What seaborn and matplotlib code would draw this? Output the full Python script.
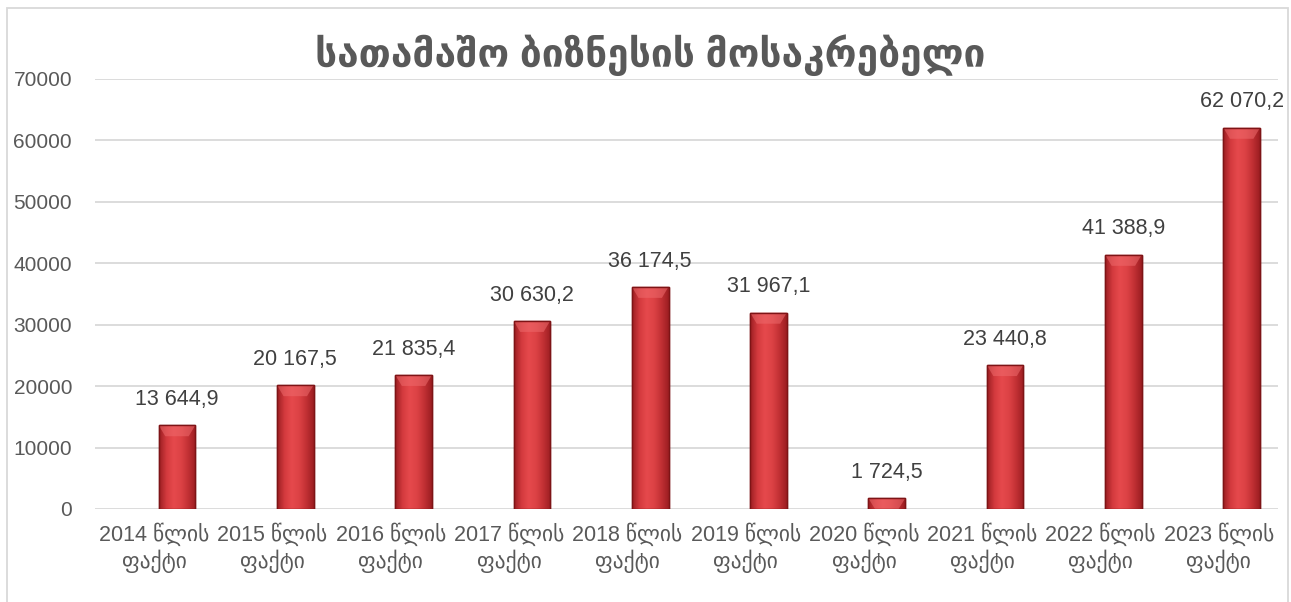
import matplotlib
matplotlib.use("Agg")
import matplotlib.pyplot as plt
from matplotlib.patches import Rectangle
from matplotlib.colors import LinearSegmentedColormap
import seaborn as sns
import pandas as pd
import numpy as np

# data
years = ['2014', '2015', '2016', '2017', '2018', '2019', '2020', '2021', '2022', '2023']
values = [13644.9, 20167.5, 21835.4, 30630.2, 36174.5, 31967.1, 1724.5, 23440.8, 41388.9, 62070.2]
categories = [f"{y} წლის\nფაქტი" for y in years]
title = "სათამაშო ბიზნესის მოსაკრებელი"
yticks = [0, 10000, 20000, 30000, 40000, 50000, 60000, 70000]

sns.set_theme(style="white")
plt.rcParams['font.family'] = ['Liberation Sans', 'DejaVu Sans']

df = pd.DataFrame({'cat': categories, 'val': values})

fig = plt.figure(figsize=(12.91, 6.02), dpi=100)
ax = fig.add_axes([95 / 1291, 1 - 509 / 602, (1278 - 95) / 1291, (509 - 79) / 602])

sns.barplot(data=df, x='cat', y='val', color='#D13B3D', width=0.31,
            edgecolor='#7E1416', linewidth=1.0, saturation=1, ax=ax, zorder=3)

ax.set_ylim(0, 70000)
ax.set_xlim(-0.693, 9.307)

# bevel-like shading on top of each bar
shade = LinearSegmentedColormap.from_list(
    'shade', ['#9C1E22', '#D33A3E', '#E6494C', '#DC4245', '#C23034', '#9C1E22'])
grad = np.linspace(0, 1, 64).reshape(1, -1)
for p in ax.patches:
    x0, w, h = p.get_x(), p.get_width(), p.get_height()
    im = ax.imshow(grad, cmap=shade, aspect='auto', extent=(x0, x0 + w, 0, h),
                   zorder=3.5, interpolation='bicubic')
    im.set_clip_path(p)
    # lighter bevel cap
    cap = min(h, 1800)
    ax.fill([x0, x0 + w, x0 + w * 0.82, x0 + w * 0.18], [h, h, h - cap, h - cap],
            color='#EE6A6C', alpha=0.55, zorder=3.6, lw=0)
    ax.add_patch(Rectangle((x0, 0), w, h, fill=False, edgecolor='#7E1416', lw=1.0, zorder=3.7))

ax.set_xticks([i - 0.193 for i in range(len(categories))])
ax.set_xticklabels(categories)
ax.set_yticks(yticks)
ax.set_yticklabels([str(t) for t in yticks])
ax.yaxis.grid(True, color='#D9D9D9', linewidth=1.3, zorder=0)
ax.xaxis.grid(False)
for s in ax.spines.values():
    s.set_visible(False)
ax.tick_params(axis='y', length=0, pad=16.5, labelsize=15, labelcolor='#595959')
ax.tick_params(axis='x', length=0, pad=10, labelsize=15.5, labelcolor='#595959')
ax.set_xlabel('')
ax.set_ylabel('')

# value labels above bars
for p, v in zip(ax.patches[:len(values)], values):
    txt = f"{v:,.1f}".replace(',', ' ').replace('.', ',')
    ax.annotate(txt, (p.get_x() + p.get_width() / 2, p.get_height()),
                xytext=(0, 11), textcoords='offset points',
                ha='center', va='bottom', fontsize=15.5, color='#404040')

fig.text(650 / 1291, 1 - 55 / 602, title, ha='center', va='center',
         fontsize=28, fontweight='bold', color='#595959')

# outer chart border
fig.patches.append(Rectangle((7 / 1291, -0.01), (1288 - 7) / 1291, (602 - 8) / 602 + 0.01,
                             transform=fig.transFigure, fill=False,
                             edgecolor='#D9D9D9', linewidth=1.3))

fig.savefig('out.png', dpi=100)
